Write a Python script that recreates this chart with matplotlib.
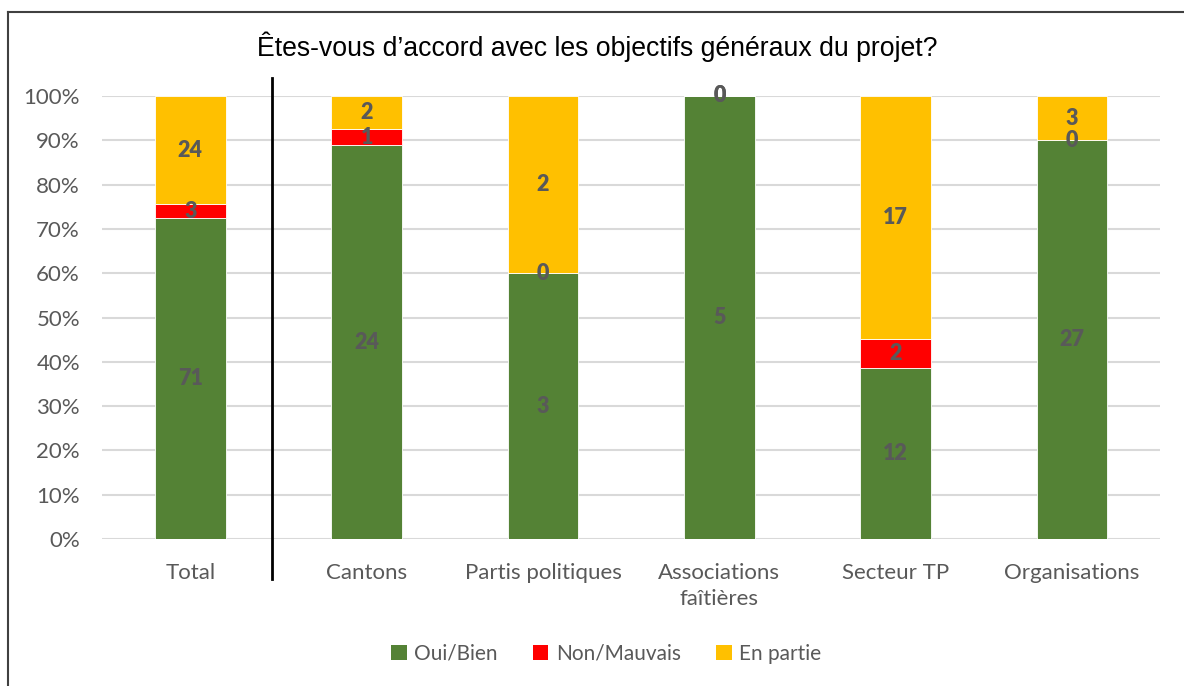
import matplotlib
matplotlib.use("Agg")
import matplotlib.pyplot as plt
import numpy as np
from matplotlib.lines import Line2D
from matplotlib.font_manager import FontProperties
import matplotlib.transforms as mtransforms

categories = ["Total", "Cantons", "Partis politiques", "Associations\nfaîtières", "Secteur TP", "Organisations"]
oui = [71, 24, 3, 5, 12, 27]
non = [3, 1, 0, 0, 2, 0]
partie = [24, 2, 2, 0, 17, 3]
series_names = ["Oui/Bien", "Non/Mauvais", "En partie"]
colors = ["#548235", "#FF0000", "#FFC000"]
title = "Êtes-vous d’accord avec les objectifs généraux du projet?"

W, H = 1184, 686
fig = plt.figure(figsize=(W / 100, H / 100), dpi=100)
ax = fig.add_axes([102.2 / W, 1 - 539 / H, 1058 / W, 443 / H])

counts = np.array([oui, non, partie], dtype=float)
totals = counts.sum(axis=0)
pct = counts / totals * 100
x = np.arange(len(categories))
bottom = np.zeros(len(categories))
font = "Lato"
label_color = "#595959"
label_fp = FontProperties(family=font, weight=800, size=15.5)
for k in range(3):
    cont = ax.bar(x, pct[k], 0.4, bottom=bottom, color=colors[k], edgecolor="white",
                  linewidth=0.6, label=series_names[k], zorder=3)
    ax.bar_label(cont, labels=[str(int(v)) for v in counts[k]], label_type="center",
                 color=label_color, fontproperties=label_fp, zorder=5)
    bottom += pct[k]

ax.set_xlim(-0.5, len(categories) - 0.5)
ax.set_ylim(0, 100)
ax.set_yticks(np.arange(0, 101, 10))
ax.set_yticklabels([f"{v}%" for v in range(0, 101, 10)])
ax.set_xticks(x)
ax.set_xticklabels(categories)
ax.grid(axis="y", color="#D9D9D9", linewidth=1.5, zorder=0)
ax.set_axisbelow(True)
for s in ax.spines.values():
    s.set_visible(False)
ax.tick_params(axis="both", length=0, labelcolor=label_color, labelsize=16)
ax.tick_params(axis="x", pad=17)
ax.tick_params(axis="y", pad=16)
for lab in ax.get_xticklabels() + ax.get_yticklabels():
    lab.set_family(font)
for lab in ax.get_xticklabels():
    lab.set_linespacing(1.4)

# separator line between Total and the groups
trans = mtransforms.blended_transform_factory(ax.transData, ax.transAxes)
ax.plot([0.463, 0.463], [1.0406, -0.0903], color="black", lw=2, transform=trans, clip_on=False, zorder=6)

fig.text(597 / W, 1 - 47 / H, title, ha="center", va="center", fontsize=19.2,
         family="Liberation Sans", color="black")

leg = fig.legend(loc="center", bbox_to_anchor=(606 / W, 1 - 654 / H), ncol=3, frameon=False,
                 handlelength=0.75, handleheight=0.75, handletextpad=0.35, columnspacing=1.7,
                 prop={"family": font, "size": 15})
for t in leg.get_texts():
    t.set_color(label_color)
for h in leg.legend_handles:
    h.set_edgecolor("none")

# chart border
bc = "#404040"
fig.add_artist(Line2D([8 / W, 1.0], [1 - 12 / H, 1 - 12 / H], color=bc, lw=1.5))
fig.add_artist(Line2D([8 / W, 8 / W], [1 - 12 / H, 0.0], color=bc, lw=1.5))

fig.savefig("out.png", dpi=100)
